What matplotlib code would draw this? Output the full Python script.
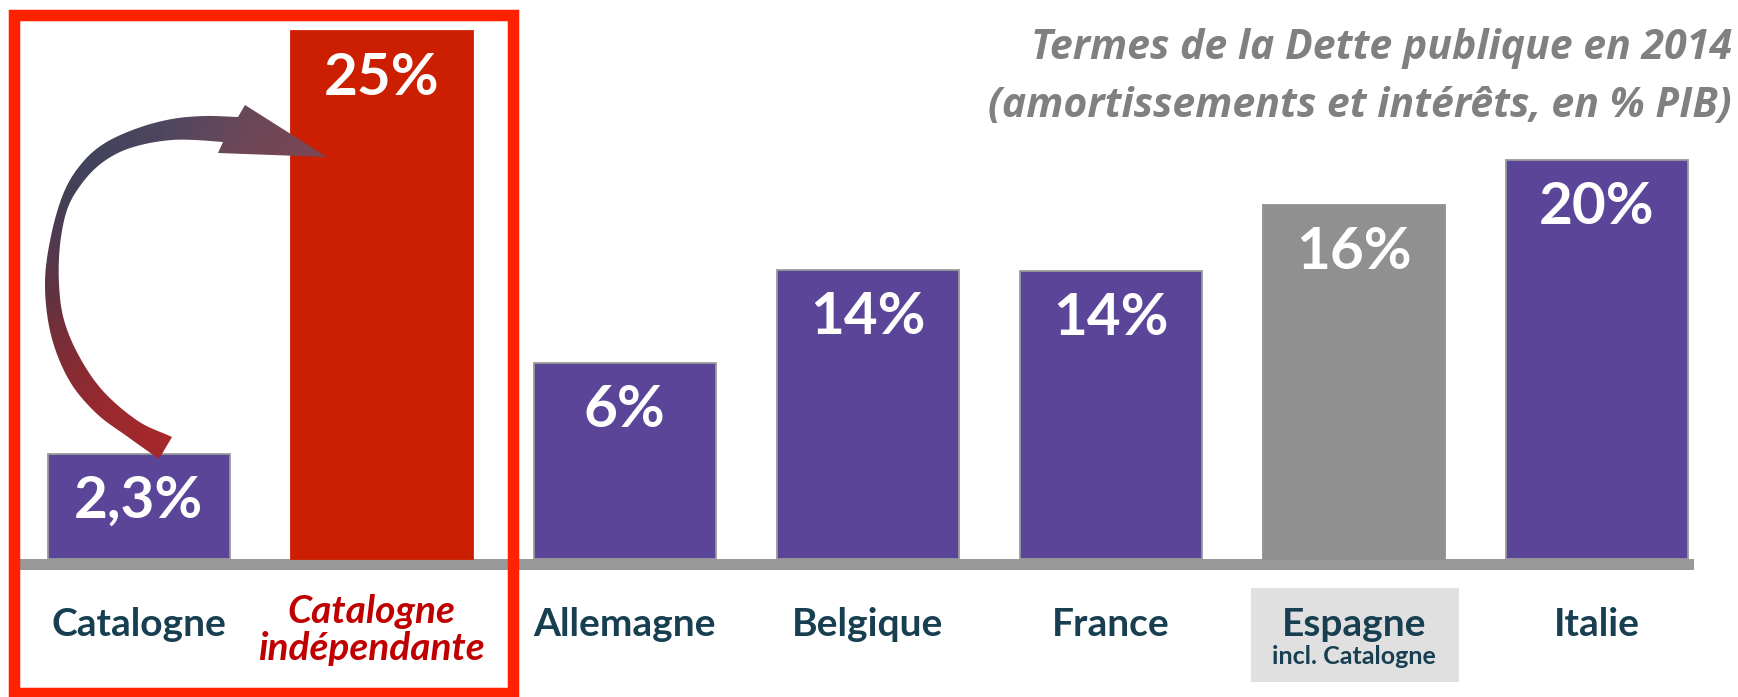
import numpy as np
import matplotlib
matplotlib.use("Agg")
import matplotlib.pyplot as plt
import matplotlib.transforms as mtransforms
from matplotlib.patches import Rectangle, Polygon
from matplotlib.colors import LinearSegmentedColormap

# ---------------- data ----------------
categories = ["Catalogne", "Catalogne\nindépendante", "Allemagne", "Belgique",
              "France", "Espagne", "Italie"]
value_labels = ["2,3%", "25%", "6%", "14%", "14%", "16%", "20%"]
# bar heights as drawn in the picture (in % of GDP scale, 25% bar as reference)
bar_heights = [4.97, 25.0, 9.28, 13.68, 13.62, 16.76, 18.9]
sub_labels = ["", "", "", "", "", "incl. Catalogne", ""]
title_lines = ["Termes de la Dette publique en 2014",
               "(amortissements et intérêts, en % PIB)"]

# ---------------- style ----------------
PURPLE = "#5B4599"
RED_BAR = "#CC1E00"
GRAY_BAR = "#909090"
BOX_RED = "#FF2200"
LABEL_COL = "#173F51"
RED_LABEL = "#C00000"
TITLE_COL = "#808080"
bar_colors = [PURPLE, RED_BAR, PURPLE, PURPLE, PURPLE, GRAY_BAR, PURPLE]
edge_colors = ["#9A9A9A", RED_BAR, "#9A9A9A", "#9A9A9A", "#9A9A9A", GRAY_BAR, "#9A9A9A"]

plt.rcParams["font.family"] = ["Lato", "DejaVu Sans"]

W, H = 1738, 697
fig = plt.figure(figsize=(W / 100, H / 100), dpi=100)
fig.patch.set_facecolor("white")

# pixel transform: x from left, y from top
P = mtransforms.Affine2D().scale(1 / W, -1 / H).translate(0, 1) + fig.transFigure

ax = fig.add_axes([0, 0, 1, 1])
ax.axis("off")

X0_PX, STEP_PX = 138.5, 243.05
BASE_PX, UNIT_PX = 559, 21.12
x = np.arange(len(categories))

ax.bar(x, bar_heights, width=182 / STEP_PX, color=bar_colors,
       edgecolor=edge_colors, linewidth=1.3, zorder=3)

ax.set_xlim(-X0_PX / STEP_PX, (W - X0_PX) / STEP_PX)
ax.set_ylim(-(H - BASE_PX) / UNIT_PX, BASE_PX / UNIT_PX)

# baseline
ax.add_patch(Rectangle((20, 559), 1674, 11, transform=P, facecolor="#999999",
                       edgecolor="none", zorder=2))

# value labels inside bars
val_tr = mtransforms.offset_copy(ax.transData, fig=fig, y=-64, units="dots")
for xi, h, lab in zip(x, bar_heights, value_labels):
    ax.text(xi, h, lab, transform=val_tr, ha="center", va="baseline",
            color="white", fontsize=42, fontweight="bold", zorder=4)

# category labels
lab_tr = mtransforms.blended_transform_factory(ax.transData, P)
ax.add_patch(Rectangle((1251, 588), 208, 94, transform=P, facecolor="#E0E0E0",
                       edgecolor="none", zorder=1))
for xi, cat, sub in zip(x, categories, sub_labels):
    if "\n" in cat:
        l1, l2 = cat.split("\n")
        tr = mtransforms.offset_copy(lab_tr, fig=fig, x=-10, units="dots")
        ax.text(xi, 623, l1, transform=tr, ha="center", va="baseline",
                color=RED_LABEL, fontsize=28, fontweight="bold", style="italic")
        ax.text(xi, 660, l2, transform=tr, ha="center", va="baseline",
                color=RED_LABEL, fontsize=28, fontweight="bold", style="italic")
    else:
        ax.text(xi, 636, cat, transform=lab_tr, ha="center", va="baseline",
                color=LABEL_COL, fontsize=28, fontweight="bold")
    if sub:
        ax.text(xi, 664, sub, transform=lab_tr, ha="center", va="baseline",
                color=LABEL_COL, fontsize=18, fontweight="bold")

# title
for line, base in zip(title_lines, (59, 117)):
    ax.text(1732, base, line, transform=P, ha="right", va="baseline",
            color=TITLE_COL, fontsize=29.5, fontweight="bold", style="italic",
            family=["Open Sans", "Lato", "DejaVu Sans"])

# ---------------- overlay: arrow + highlight box ----------------
ov = fig.add_axes([0, 0, 1, 1], zorder=5)
ov.axis("off")
ov.patch.set_alpha(0)


def catmull(points, n=16):
    p = np.array(points, float)
    p = np.vstack([2 * p[0] - p[1], p, 2 * p[-1] - p[-2]])
    out = []
    for i in range(1, len(p) - 2):
        p0, p1, p2, p3 = p[i - 1], p[i], p[i + 1], p[i + 2]
        for t in np.linspace(0, 1, n, endpoint=False):
            t2, t3 = t * t, t * t * t
            out.append(0.5 * (2 * p1 + (-p0 + p2) * t
                              + (2 * p0 - 5 * p1 + 4 * p2 - p3) * t2
                              + (-p0 + 3 * p1 - 3 * p2 + p3) * t3))
    out.append(p[-2])
    return np.array(out)


outer = catmull([(238, 117), (205, 116), (172, 119), (138, 128), (105, 143),
                 (82, 163), (64, 192), (51, 236), (45, 284), (51, 335),
                 (69, 380), (96, 413), (128, 437), (159, 459)])
inner = catmull([(223, 142), (195, 140), (172, 140), (145, 144), (120, 152),
                 (98, 166), (80, 186), (67, 210), (60, 245), (59, 284),
                 (64, 320), (79, 356), (103, 391), (138, 421), (172, 437)])
head = np.array([(218, 153), (327, 157), (245, 105)])
poly = np.vstack([outer, inner[::-1], head])
clip = Polygon(poly, closed=True, facecolor="none", edgecolor="none")
ov.add_patch(clip)

xs = np.arange(30, 345)
ys = np.arange(95, 475)
XX, YY = np.meshgrid(xs, ys)
ang = np.degrees(np.arctan2(-(YY - 290), XX - 150))
ang = np.where(ang < 0, ang + 360, ang)
stops = [(30, "#824554"), (60, "#6A4858"), (85, "#4E4660"), (120, "#40435A"),
         (150, "#4F3A50"), (185, "#63323F"), (210, "#7A2E38"), (245, "#952A30"),
         (280, "#A8282A")]
cmap = LinearSegmentedColormap.from_list(
    "arr", [((a - 30) / 250, c) for a, c in stops])
tt = np.clip((ang - 30) / 250, 0, 1)
im = ov.imshow(cmap(tt), extent=(30, 345, 475, 95), origin="upper",
               interpolation="bilinear", aspect="auto", zorder=6)
im.set_clip_path(clip)

ov.add_patch(Rectangle((14, 15), 499, 678, fill=False, edgecolor=BOX_RED,
                       linewidth=11.5 * 72 / 100, zorder=7))

ov.set_xlim(0, W)
ov.set_ylim(H, 0)

fig.savefig("out.png", dpi=100, facecolor="white")
